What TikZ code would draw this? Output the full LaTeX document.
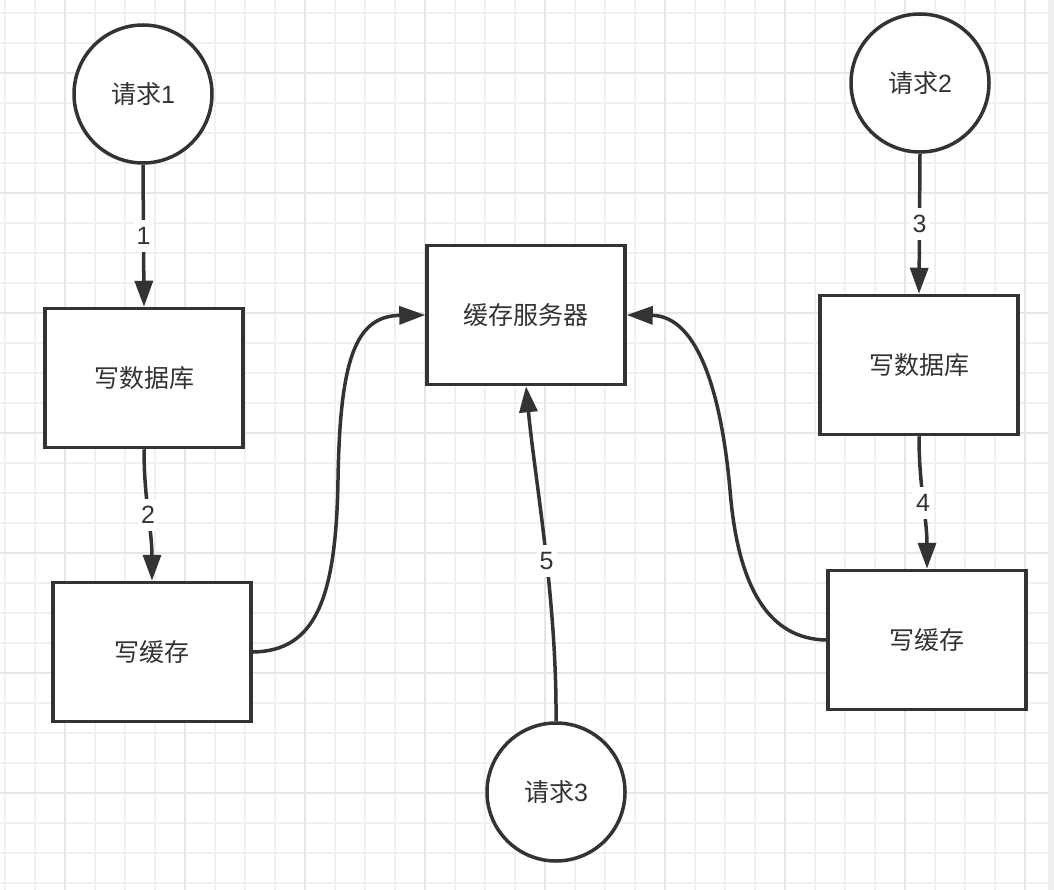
\documentclass[tikz,border=0pt]{standalone}
\usepackage{fontspec}
\setmainfont{Liberation Sans}
\newfontfamily\cjkfont{Noto Sans CJK SC}
\usetikzlibrary{arrows.meta}
\definecolor{ink}{HTML}{333333}
\definecolor{gridminor}{HTML}{F0F0F0}
\definecolor{gridmajor}{HTML}{E6E6E6}
\definecolor{edgestrip}{HTML}{EFEFEF}
\begin{document}
\begin{tikzpicture}[x=1pt,y=-1pt,
  every node/.style={font=\fontsize{25}{30}\selectfont, text=ink},
  box/.style={draw=ink, line width=3.5pt, fill=white, minimum width=198pt, minimum height=139pt, inner sep=0pt},
  req/.style={circle, draw=ink, line width=3.5pt, fill=white, minimum size=138pt, inner sep=0pt},
  conn/.style={draw=ink, line width=3.5pt, -{Triangle[length=26pt,width=18pt]}},
  lbl/.style={fill=white, inner xsep=3pt, inner ysep=0pt, minimum height=32pt, font=\fontsize{25}{30}\selectfont},
  gminor/.style={draw=gridminor, line width=2pt},
  gmajor/.style={draw=gridmajor, line width=2pt}
]
\useasboundingbox (0,0) rectangle (1054,890);
\fill[white] (0,0) rectangle (1054,890);
% grid
\foreach \xx in {5,35,...,1025} \draw[gminor] (\xx,0) -- (\xx,890);
\foreach \yy in {13,43,...,883} \draw[gminor] (0,\yy) -- (1048,\yy);
\foreach \xx in {65,185,...,1025} \draw[gmajor] (\xx,0) -- (\xx,890);
\foreach \yy in {73,193,...,793} \draw[gmajor] (0,\yy) -- (1048,\yy);
\fill[edgestrip] (1048,0) rectangle (1054,890);

% nodes
\node[req] (req1) at (143,94) {{\cjkfont 请求}1};
\node[req] (req2) at (920,83) {{\cjkfont 请求}2};
\node[req] (req3) at (556,792) {{\cjkfont 请求}3};
\node[box] (db1) at (144,378) {\cjkfont 写数据库};
\node[box] (cache1) at (152,652) {\cjkfont 写缓存};
\node[box] (server) at (526,315) {\cjkfont 缓存服务器};
\node[box] (db2) at (919,365) {\cjkfont 写数据库};
\node[box] (cache2) at (927,640) {\cjkfont 写缓存};

% connectors
\draw[conn] (req1.south) -- node[lbl]{1} (db1.north);
\draw[conn] (db1.south) .. controls +(0,50) and +(0,-50) .. node[lbl]{2} (cache1.north);
\draw[conn] (req2.south) -- node[lbl]{3} (db2.north);
\draw[conn] (db2.south) .. controls +(0,50) and +(0,-50) .. node[lbl]{4} (cache2.north);
\draw[conn] (req3.north) .. controls (557,600) and (535,480) .. node[lbl,pos=0.45]{5} (server.south);
\draw[conn] (cache1.east) .. controls (315,651) and (336,600) .. (338,480) .. controls (340,360) and (355,316) .. (server.west);
\draw[conn] (cache2.west) .. controls (770,639) and (738,590) .. (730,490) .. controls (722,400) and (700,316) .. (server.east);
\end{tikzpicture}
\end{document}
